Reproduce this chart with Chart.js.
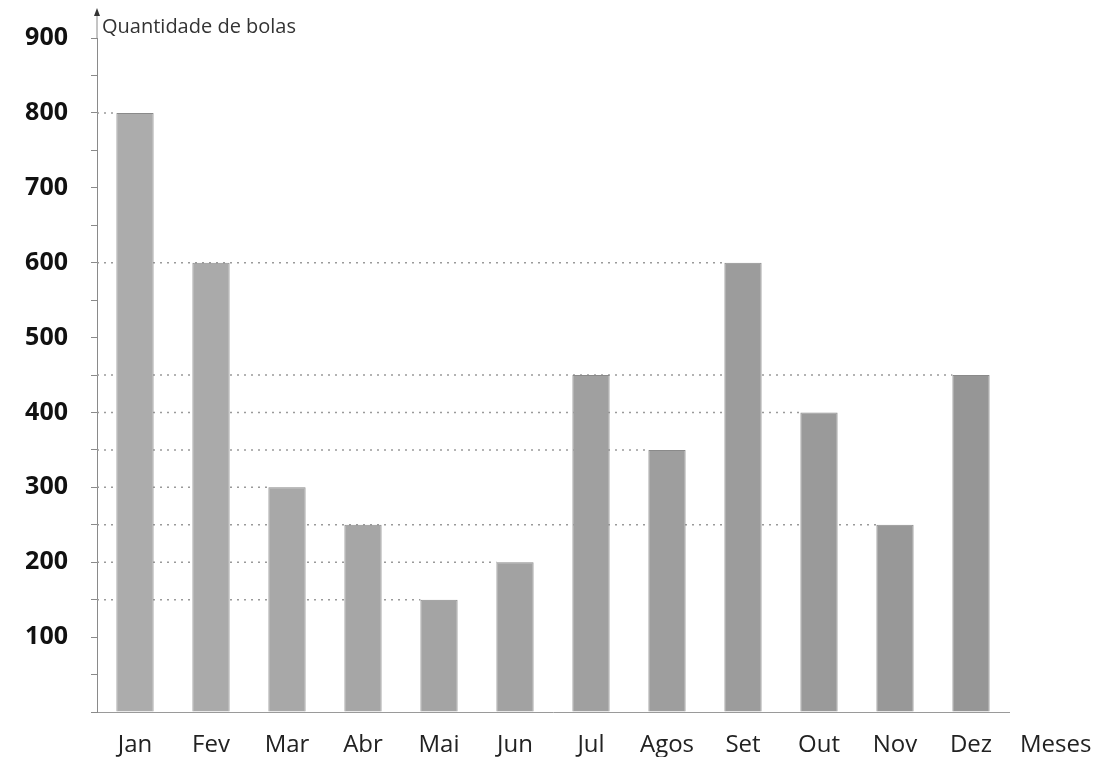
<!DOCTYPE html>
<html>
<head>
<meta charset="utf-8">
<script src="https://cdn.jsdelivr.net/npm/chart.js@4.4.1/dist/chart.umd.min.js"></script>
<style>
  html, body { margin: 0; padding: 0; background: #fff; }
  #wrap { width: 1103px; height: 757px; }
</style>
</head>
<body>
<div id="wrap"><canvas id="mycanvas" width="1103" height="757"></canvas></div>
<script>
var meses = ["Jan", "Fev", "Mar", "Abr", "Mai", "Jun", "Jul", "Agos", "Set", "Out", "Nov", "Dez"];
var bolas = [800, 600, 300, 250, 150, 200, 450, 350, 600, 400, 250, 450];
var yMax = 900;
var yStep = 50;
var tituloY = "Quantidade de bolas";
var tituloX = "Meses";

// bars get a bit darker towards December, like the scan
function barColor(ctx) {
  var t = ctx.dataIndex / 11;
  var v = Math.round(172 - 22 * t);
  return "rgb(" + v + "," + v + "," + v + ")";
}

var extras = {
  id: "extras",
  beforeDatasetsDraw: function(chart) {
    var c = chart.ctx, area = chart.chartArea;
    var meta = chart.getDatasetMeta(0);
    // one dotted line per value, out to the last bar that has it
    var ends = {};
    meta.data.forEach(function(bar, i) {
      ends[bolas[i]] = bar;
    });
    c.save();
    c.strokeStyle = "#9a9a9a";
    c.lineWidth = 1.5;
    c.setLineDash([2, 5]);
    Object.keys(ends).forEach(function(k) {
      var bar = ends[k];
      c.beginPath();
      c.moveTo(area.left, bar.y);
      c.lineTo(bar.x - bar.width / 2, bar.y);
      c.stroke();
    });
    c.restore();
  },
  afterDraw: function(chart) {
    var c = chart.ctx, area = chart.chartArea;
    c.save();
    // axis goes up past 900 with a small arrow
    c.strokeStyle = "#8a8a8a";
    c.lineWidth = 1;
    c.beginPath();
    c.moveTo(area.left, area.top);
    c.lineTo(area.left, 14);
    c.stroke();
    c.fillStyle = "#333";
    c.beginPath();
    c.moveTo(area.left, 8);
    c.lineTo(area.left - 3, 16);
    c.lineTo(area.left + 3, 16);
    c.closePath();
    c.fill();

    c.font = "20px 'Open Sans'";
    c.fillStyle = "#333";
    c.textBaseline = "middle";
    c.textAlign = "left";
    c.fillText(tituloY, area.left + 5, 27);

    c.font = "24px 'Open Sans'";
    c.fillStyle = "#222";
    c.fillText(tituloX, area.right + 11, 745);
    c.restore();
  }
};

var ctx = document.getElementById("mycanvas");

var barGraph = new Chart(ctx, {
  type: "bar",
  data: {
    labels: meses,
    datasets: [{
      data: bolas,
      backgroundColor: barColor,
      borderColor: "#8a8a8a",
      borderWidth: 1,
      barPercentage: 0.49,
      categoryPercentage: 1
    }]
  },
  options: {
    responsive: false,
    animation: false,
    layout: { padding: { top: 36, right: 94, bottom: 0, left: 0 } },
    plugins: {
      legend: { display: false },
      tooltip: { enabled: false }
    },
    scales: {
      x: {
        grid: { display: false },
        border: { display: true, color: "#9a9a9a", width: 1 },
        ticks: {
          color: "#222",
          font: { family: "'Open Sans'", size: 24 },
          padding: 11,
          maxRotation: 0
        },
        afterFit: function(s) { s.height = 45; }
      },
      y: {
        min: 0,
        max: yMax,
        grid: { drawOnChartArea: false, tickLength: 6, color: "#8a8a8a" },
        border: { display: true, color: "#8a8a8a", width: 1 },
        ticks: {
          stepSize: yStep,
          color: "#111",
          padding: 23,
          font: { family: "'Open Sans'", size: 25, weight: "bold" },
          callback: function(v) { return (v % 100 === 0 && v > 0) ? v : ""; }
        },
        afterFit: function(s) { s.width = 97; }
      }
    }
  },
  plugins: [extras]
});
</script>
</body>
</html>
